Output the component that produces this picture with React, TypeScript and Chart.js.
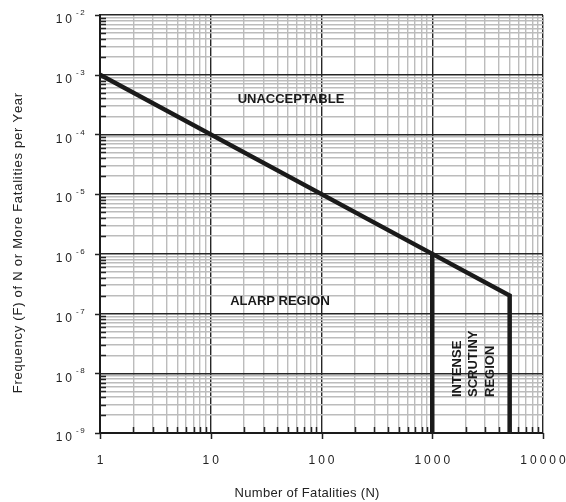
import React, { useEffect, useRef } from "react";
import { Chart, registerables } from "chart.js";

Chart.register(...registerables);

// ---- data ----
const fnLineN = [1, 1000, 5000, 5000];
const fnLineF = [1e-3, 1e-6, 2e-7, 1e-9];
const scrutinyN = [1000, 1000];
const scrutinyF = [1e-6, 1e-9];

const xMin = 1;
const xMax = 10000;
const yMinExp = -9;
const yMaxExp = -2;
const xTickLabels = ["1", "10", "100", "1000", "10000"];
const yTickExponents = [-9, -8, -7, -6, -5, -4, -3, -2];

const xTitle = "Number of Fatalities (N)";
const yTitle = "Frequency (F) of N or More Fatalities per Year";
const regionUnacceptable = "UNACCEPTABLE";
const regionAlarp = "ALARP REGION";
const regionScrutiny = ["INTENSE", "SCRUTINY", "REGION"];

const FONT = '"Liberation Sans", Arial, Helvetica, sans-serif';

function logTicks(minExp: number, maxExp: number): number[] {
  const out: number[] = [];
  for (let e = minExp; e < maxExp; e++) {
    for (let d = 1; d <= 9; d++) out.push(parseFloat((d * Math.pow(10, e)).toPrecision(3)));
  }
  out.push(parseFloat(Math.pow(10, maxExp).toPrecision(3)));
  return out;
}
const xTickValues = logTicks(0, 4);
const yTickValues = logTicks(yMinExp, yMaxExp);

function isMajor(v: number) {
  const l = Math.log10(v);
  return Math.abs(l - Math.round(l)) < 1e-6;
}

function spacedWidth(ctx: CanvasRenderingContext2D, text: string, sp: number) {
  let w = 0;
  for (const ch of text) w += ctx.measureText(ch).width;
  return w + sp * Math.max(0, text.length - 1);
}
function drawSpaced(
  ctx: CanvasRenderingContext2D,
  text: string,
  x: number,
  y: number,
  sp: number,
  align: "left" | "center" | "right"
) {
  const w = spacedWidth(ctx, text, sp);
  let cx = align === "left" ? x : align === "center" ? x - w / 2 : x - w;
  ctx.textAlign = "left";
  for (const ch of text) {
    ctx.fillText(ch, cx, y);
    cx += ctx.measureText(ch).width + sp;
  }
}

const decorPlugin = {
  id: "fnDecor",
  afterDraw(chart: any) {
    const ctx: CanvasRenderingContext2D = chart.ctx;
    const xs = chart.scales.x;
    const ys = chart.scales.y;
    const { left, bottom } = chart.chartArea;
    ctx.save();
    // ticks
    ctx.strokeStyle = "#222";
    ctx.lineWidth = 1.5;
    ctx.beginPath();
    for (const v of yTickValues) {
      const py = Math.round(ys.getPixelForValue(v)) + 0.5;
      if (isMajor(v)) {
        ctx.moveTo(left - 5, py);
        ctx.lineTo(left, py);
      } else {
        ctx.moveTo(left, py);
        ctx.lineTo(left + 6, py);
      }
    }
    for (const v of xTickValues) {
      const px = Math.round(xs.getPixelForValue(v)) + 0.5;
      if (isMajor(v)) {
        ctx.moveTo(px, bottom);
        ctx.lineTo(px, bottom + 6);
      } else {
        ctx.moveTo(px, bottom);
        ctx.lineTo(px, bottom - 6);
      }
    }
    ctx.stroke();

    ctx.fillStyle = "#222";
    ctx.textBaseline = "middle";
    // x tick labels
    ctx.font = `12px ${FONT}`;
    xTickLabels.forEach((t) => {
      const px = xs.getPixelForValue(parseFloat(t));
      drawSpaced(ctx, t, px, bottom + 28, 3, "center");
    });
    // y tick labels
    yTickExponents.forEach((e) => {
      const py = ys.getPixelForValue(Math.pow(10, e));
      ctx.font = `12px ${FONT}`;
      drawSpaced(ctx, "10", 72, py + 5, 3, "right");
      ctx.font = `8px ${FONT}`;
      drawSpaced(ctx, String(e), 76, py - 2, 1.5, "left");
    });

    // axis titles
    ctx.font = `13px ${FONT}`;
    drawSpaced(ctx, xTitle, 307, 493, 0.3, "center");
    ctx.save();
    ctx.translate(18, 243);
    ctx.rotate(-Math.PI / 2);
    drawSpaced(ctx, yTitle, 0, 0, 0.75, "center");
    ctx.restore();

    // region annotations
    ctx.font = `bold 13px ${FONT}`;
    ctx.fillStyle = "#1a1a1a";
    ctx.textAlign = "center";
    ctx.fillText(regionUnacceptable, 291, 99);
    ctx.fillText(regionAlarp, 280, 301);
    const colX = [457, 473, 490];
    regionScrutiny.forEach((t, i) => {
      ctx.save();
      ctx.translate(colX[i], 397);
      ctx.rotate(-Math.PI / 2);
      ctx.textAlign = "left";
      ctx.fillText(t, 0, 0);
      ctx.restore();
    });
    ctx.restore();
  },
};

export default function App() {
  const ref = useRef<HTMLCanvasElement | null>(null);
  useEffect(() => {
    if (!ref.current) return;
    const gridColor = (c: any) => (c.tick && isMajor(c.tick.value) ? "#262626" : "#bcbcbc");
    const gridWidth = (c: any) => (c.tick && isMajor(c.tick.value) ? 1.4 : 1.4);
    const chart = new Chart(ref.current, {
      type: "line",
      data: {
        datasets: [
          {
            data: fnLineN.map((n, i) => ({ x: n, y: fnLineF[i] })),
            borderColor: "#1a1a1a",
            borderWidth: 4.5,
            pointRadius: 0,
            fill: false,
            tension: 0,
            borderJoinStyle: "miter",
          },
          {
            data: scrutinyN.map((n, i) => ({ x: n, y: scrutinyF[i] })),
            borderColor: "#1a1a1a",
            borderWidth: 4.5,
            pointRadius: 0,
            fill: false,
            tension: 0,
          },
        ],
      },
      plugins: [decorPlugin],
      options: {
        animation: false,
        responsive: false,
        maintainAspectRatio: false,
        events: [],
        layout: { padding: { left: 100, right: 23, top: 15, bottom: 69 } },
        plugins: { legend: { display: false }, tooltip: { enabled: false }, title: { display: false } },
        scales: {
          x: {
            type: "logarithmic",
            min: xMin,
            max: xMax,
            afterBuildTicks: (s: any) => {
              s.ticks = xTickValues.map((v) => ({ value: v }));
            },
            ticks: { display: false },
            grid: { color: gridColor, lineWidth: gridWidth, drawTicks: false },
            border: { display: true, color: "#1a1a1a", width: 2 },
          },
          y: {
            type: "logarithmic",
            min: Math.pow(10, yMinExp),
            max: Math.pow(10, yMaxExp),
            afterBuildTicks: (s: any) => {
              s.ticks = yTickValues.map((v) => ({ value: v }));
            },
            ticks: { display: false },
            grid: { color: gridColor, lineWidth: gridWidth, drawTicks: false },
            border: { display: true, color: "#1a1a1a", width: 2 },
          },
        },
      } as any,
    });
    return () => chart.destroy();
  }, []);
  return (
    <div style={{ position: "fixed", left: 0, top: 0, width: 566, height: 502, background: "#fff" }}>
      <canvas ref={ref} width={566} height={502} style={{ width: 566, height: 502, display: "block" }} />
    </div>
  );
}
